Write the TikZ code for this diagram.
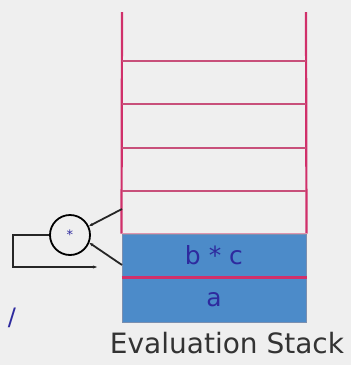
\documentclass[tikz,border=0pt]{standalone}
\usepackage{fontspec}
\setmainfont{DejaVu Sans}
\usepackage{tikz}
\usetikzlibrary{arrows.meta,positioning}
\definecolor{canvas}{HTML}{EFEFEF}
\definecolor{stackline}{HTML}{D0306A}
\definecolor{slotline}{HTML}{C8507A}
\definecolor{cellblue}{HTML}{4C8BC9}
\definecolor{celledge}{HTML}{7A8FB0}
\definecolor{valink}{HTML}{2E2A9E}

\begin{document}
\begin{tikzpicture}[
  x=1pt, y=-1pt,
  cellbox/.style={
    rectangle, fill=cellblue, draw=celledge, line width=1pt,
    minimum width=184pt, inner sep=0pt,
    font=\fontsize{25}{28}\selectfont, text=valink,
  },
  opcircle/.style={
    circle, draw=black, line width=1.8pt, fill=canvas,
    minimum size=40pt, inner sep=0pt,
    font=\fontsize{13}{15}\selectfont, text=valink,
  },
  wire/.style={line width=1.8pt, black!85},
]

% Background
\fill[canvas] (0,0) rectangle (351,365);

% Filled cells
\node[cellbox, minimum height=43pt] (bc) at (214,255.5) {b * c};
\node[cellbox, minimum height=45pt] (a) at (214,299.5) {a};
\draw[line width=2.6pt, stackline] (bc.south west) -- (bc.south east);

% Stack walls and empty slots
\draw[line width=2.2pt, stackline] (122,12) -- (bc.north west);
\draw[line width=2.2pt, stackline] (306,12) -- (bc.north east);
\foreach \y in {61,104,148,191}
  \draw[line width=2pt, slotline] (122,\y) -- (306,\y);
\draw[line width=1.2pt, slotline!60] (bc.north west) -- (bc.north east);

% Operator
\node[opcircle] (op) at (70,235) {*};
\coordinate (upin) at (122,209);
\coordinate (lowin) at (122,265);
\draw[wire, -{Stealth[length=4pt]}] (upin) -- (op.25);
\draw[wire, -{Stealth[length=4pt]}] (lowin) -- (op.-22);

% Result back to the stack
\coordinate (ret) at (97,267);
\draw[wire, -{Stealth[length=4pt]}] (op.west) -- (13,235) -- (13,267) -- (ret);

% Leftover operator
\node[font=\fontsize{24}{26}\selectfont, text=valink] (slash) at (12,318) {/};

% Caption
\node[font=\fontsize{28}{31}\selectfont, text=black!80] (cap) at (227,343) {Evaluation Stack};

\end{tikzpicture}
\end{document}
